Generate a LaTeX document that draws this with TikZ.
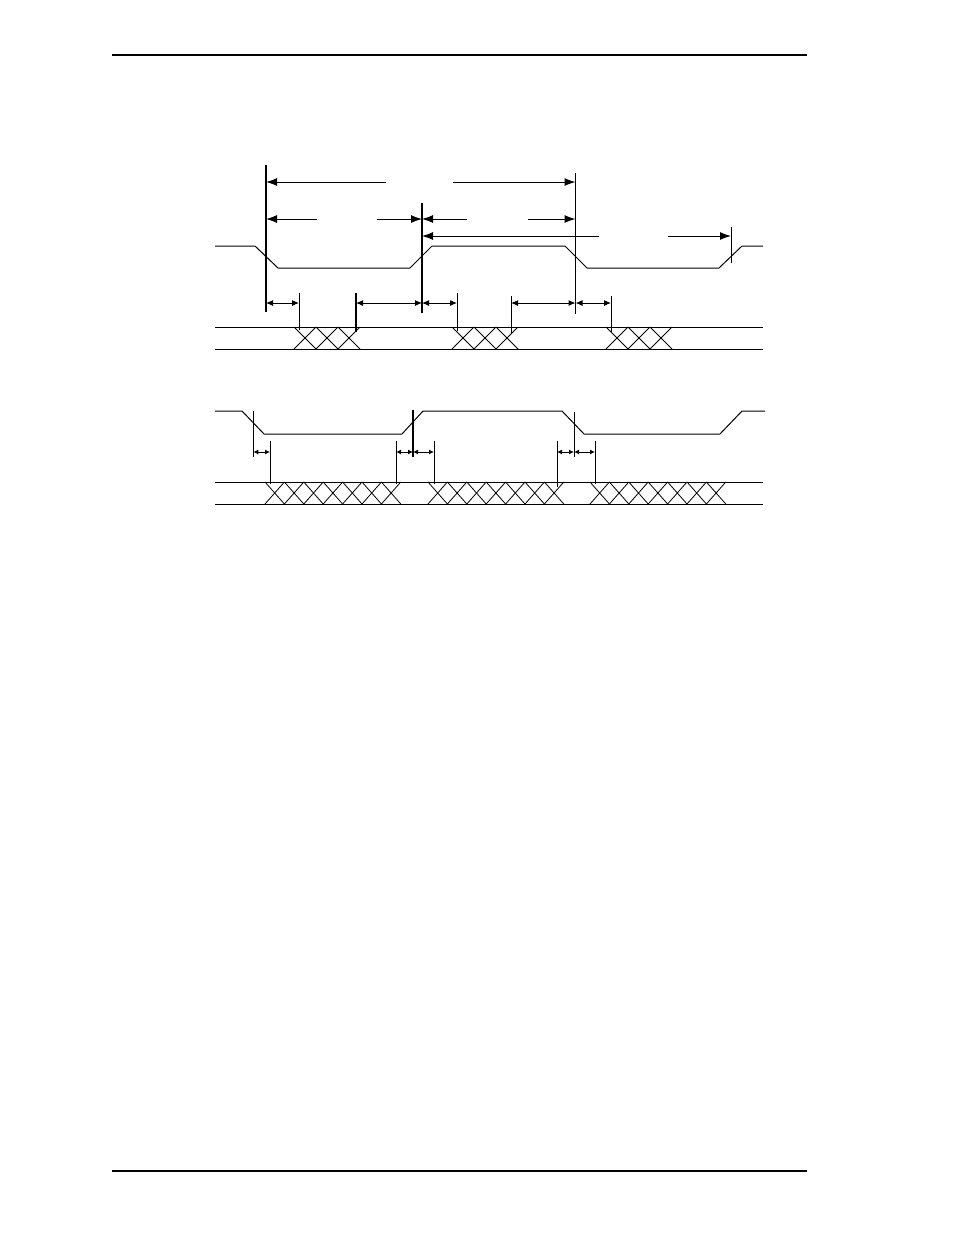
\documentclass[tikz,border=0pt]{standalone}
\usetikzlibrary{arrows.meta}
\begin{document}
\begin{tikzpicture}[x=1pt,y=-1pt,
  pagerule/.style={line width=1.3pt},
  sig/.style={line width=1pt},
  bus/.style={line width=1pt},
  xing/.style={line width=0.8pt},
  edgethin/.style={line width=1pt},
  edgemid/.style={line width=1.4pt},
  edgethick/.style={line width=2.2pt},
  bigarrow/.style={line width=1pt,-{Latex[length=11pt,width=8pt]}},
  midarrow/.style={line width=1pt,{Latex[length=7pt,width=6pt]}-{Latex[length=7pt,width=6pt]}},
  smallarrow/.style={line width=1pt,{Latex[length=5pt,width=5pt]}-{Latex[length=5pt,width=5pt]}}]
\useasboundingbox (0,0) rectangle (954,1235);

% page rules
\draw[pagerule] (112,55) -- (807,55);
\draw[pagerule] (112,1171) -- (807,1171);

% ===== top diagram =====
% clock-like signal
\draw[sig] (215,246) -- (255,246) -- (278,268) -- (410,268) -- (432,246) -- (565,246)
  -- (587,268) -- (719,268) -- (742,246) -- (763,246);
% bus
\draw[bus] (215,327) -- (763,327);
\draw[bus] (215,349) -- (763,349);
\foreach \s in {294,452,606}{
  \foreach \i in {0,1,2}{
    \draw[xing] ({\s+22*\i},327) -- ({\s+22*(\i+1)},349);
    \draw[xing] ({\s+22*\i},349) -- ({\s+22*(\i+1)},327);
  }
}
% reference verticals
\coordinate (A1) at (266,165); \coordinate (A2) at (266,312);
\coordinate (B1) at (422,203); \coordinate (B2) at (422,313);
\coordinate (C1) at (575.5,173); \coordinate (C2) at (575.5,314);
\coordinate (D1) at (731,227); \coordinate (D2) at (731,263);
\draw[edgethick] (A1) -- (A2);
\draw[edgemid] (B1) -- (B2);
\draw[edgethin] (C1) -- (C2);
\draw[edgethin] (D1) -- (D2);
\coordinate (t1a) at (299,293); \coordinate (t1b) at (299,330);
\coordinate (t2a) at (356,293); \coordinate (t2b) at (356,332);
\coordinate (t3a) at (457,293); \coordinate (t3b) at (457,331);
\coordinate (t4a) at (511,296); \coordinate (t4b) at (511,333);
\coordinate (t5a) at (611,296); \coordinate (t5b) at (611,332);
\draw[edgethin] (t1a) -- (t1b);
\draw[edgethick] (t2a) -- (t2b);
\draw[edgethin] (t3a) -- (t3b);
\draw[edgethin] (t4a) -- (t4b);
\draw[edgethin] (t5a) -- (t5b);

% long dimension arrows (with gaps)
\draw[bigarrow] (386,182) -- (A1 |- 0,182);
\draw[bigarrow] (453,182) -- (C1 |- 0,182);
\draw[bigarrow] (317,219) -- (A1 |- 0,219);
\draw[bigarrow] (377,219) -- (B1 |- 0,219);
\draw[bigarrow] (467,219) -- (B1 |- 0,219);
\draw[bigarrow] (528,219) -- (C1 |- 0,219);
\draw[bigarrow] (599,236) -- (B1 |- 0,236);
\draw[bigarrow] (668,236) -- (D1 |- 0,236);

% short dimension arrows
\draw[midarrow] (A1 |- 0,303) -- (t1a |- 0,303);
\draw[midarrow] (t2a |- 0,303) -- (B1 |- 0,303);
\draw[midarrow] (B1 |- 0,303) -- (t3a |- 0,303);
\draw[midarrow] (t4a |- 0,303) -- (C1 |- 0,303);
\draw[midarrow] (C1 |- 0,303) -- (t5a |- 0,303);

% ===== bottom diagram =====
\draw[sig] (215,411) -- (242,411) -- (264,434) -- (402,434) -- (423,411) -- (562,411)
  -- (584,434) -- (720,434) -- (742,411) -- (765,411);
\draw[bus] (215,482) -- (763,482);
\draw[bus] (215,504) -- (763,504);
\foreach \s in {265,428,590}{
  \foreach \i in {0,...,6}{
    \draw[xing] ({\s+19.4*\i},482) -- ({\s+19.4*(\i+1)},504);
    \draw[xing] ({\s+19.4*\i},504) -- ({\s+19.4*(\i+1)},482);
  }
}
\coordinate (b1a) at (253.3,411); \coordinate (b1b) at (253.3,457);
\coordinate (b2a) at (270,441);   \coordinate (b2b) at (270,484);
\coordinate (b3a) at (396,441);   \coordinate (b3b) at (396,484);
\coordinate (b4a) at (413,410);   \coordinate (b4b) at (413,457);
\coordinate (b5a) at (434,441);   \coordinate (b5b) at (434,484);
\coordinate (b6a) at (557,441);   \coordinate (b6b) at (557,487);
\coordinate (b7a) at (574,412);   \coordinate (b7b) at (574,457);
\coordinate (b8a) at (595,441);   \coordinate (b8b) at (595,484);
\draw[edgethin] (b1a) -- (b1b);
\draw[edgethin] (b2a) -- (b2b);
\draw[edgethin] (b3a) -- (b3b);
\draw[edgethick] (b4a) -- (b4b);
\draw[edgethin] (b5a) -- (b5b);
\draw[edgethin] (b6a) -- (b6b);
\draw[edgethin] (b7a) -- (b7b);
\draw[edgethin] (b8a) -- (b8b);
\draw[smallarrow] (b1a |- 0,452) -- (b2a |- 0,452);
\draw[smallarrow] (b3a |- 0,452) -- (b4a |- 0,452);
\draw[smallarrow] (b4a |- 0,452) -- (b5a |- 0,452);
\draw[smallarrow] (b6a |- 0,452) -- (b7a |- 0,452);
\draw[smallarrow] (b7a |- 0,452) -- (b8a |- 0,452);
\end{tikzpicture}
\end{document}
